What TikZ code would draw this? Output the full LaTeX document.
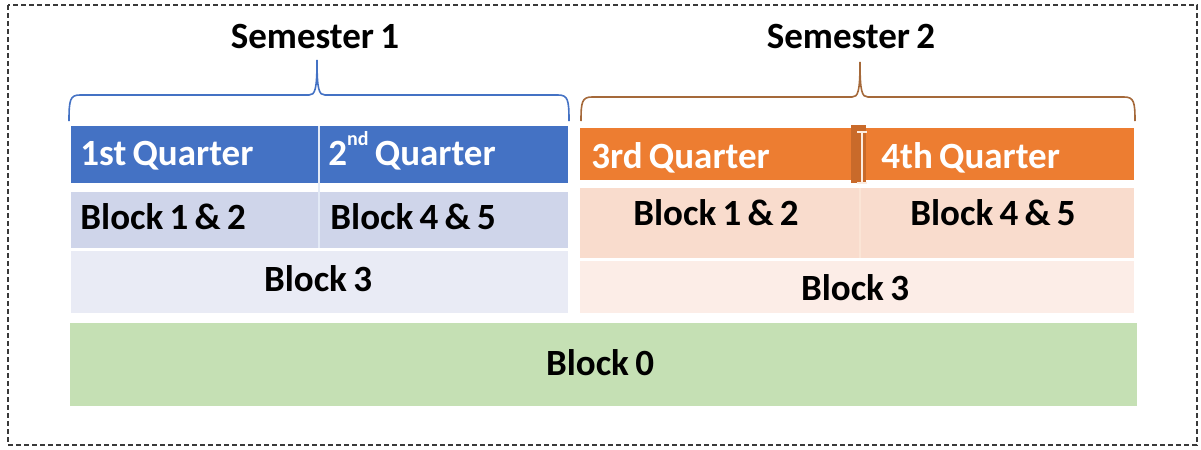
\documentclass[tikz,border=0pt]{standalone}
\usepackage{fontspec}
\setmainfont{Carlito}[WordSpace=0.75]

\definecolor{qblue}{HTML}{4472C4}
\definecolor{rowblue}{HTML}{CFD5EA}
\definecolor{paleblue}{HTML}{E9EBF5}
\definecolor{qorange}{HTML}{ED7D31}
\definecolor{roworange}{HTML}{F9DCCD}
\definecolor{paleorange}{HTML}{FCEDE7}
\definecolor{blockgreen}{HTML}{C5E0B4}
\definecolor{bracebrown}{HTML}{A5693A}

\begin{document}
\begin{tikzpicture}[x=0.5pt,y=-0.5pt,
  lbl/.style={font=\fontsize{18.5}{20}\selectfont\bfseries, inner sep=0pt},
  qlbl/.style={lbl, text=white}]
\useasboundingbox (0,0) rectangle (1201,450);
\draw[gray!45!black, semithick, dash pattern=on 2.5pt off 1.5pt] (8,5) rectangle (1197,445);

% semester 1
\draw[qblue, thick] (69,121) .. controls (69,100) and (70,95) .. (80,95) -- (309,95)
  .. controls (315,95) and (317,90) .. (317,60) .. controls (317,90) and (319,95) .. (325,95)
  -- (558,95) .. controls (568,95) and (569,100) .. (569,121);
\node[lbl, anchor=base] (sem1) at (315,48) {Semester 1};
\draw[fill=qblue, draw=none] (71,126) rectangle (568,183);
\draw[fill=rowblue, draw=none] (71,192) rectangle (568,248);
\draw[fill=paleblue, draw=none] (71,251) rectangle (568,313);
\draw[white!85!qblue, thick] (319,126) -- (319,248);
\node[qlbl, anchor=base west] (q1) at (80,165) {1st Quarter};
\node[qlbl, anchor=base west] (q2) at (328,165) {2\raisebox{1.1ex}{\fontsize{10}{11}\selectfont nd} Quarter};
\node[lbl, anchor=base west] (b12a) at (80,229) {Block 1 \& 2};
\node[lbl, anchor=base west] (b45a) at (330,229) {Block 4 \& 5};
\node[lbl, anchor=base] (b3a) at (318,291) {Block 3};

% semester 2
\draw[bracebrown, thick] (581,121) .. controls (581,102) and (582,97) .. (592,97) -- (852,97)
  .. controls (858,97) and (860,92) .. (860,62) .. controls (860,92) and (862,97) .. (868,97)
  -- (1124,97) .. controls (1134,97) and (1135,102) .. (1135,121);
\node[lbl, anchor=base] (sem2) at (851,48) {Semester 2};
\draw[fill=qorange, draw=none] (580,128) rectangle (1134,180);
\draw[fill=roworange, draw=none] (580,188) rectangle (1134,258);
\draw[fill=paleorange, draw=none] (580,261) rectangle (1134,313);
\draw[white!80!qorange, thick] (860,188) -- (860,258);
\draw[fill=qorange!85!black, draw=none] (851,125) rectangle (866,183);
\draw[white!85!qorange, thick] (857,132) -- (867,132) (862,132) -- (862,183) (857,183) -- (867,183);
\node[qlbl, anchor=base west] (q3) at (591,168) {3rd Quarter};
\node[qlbl, anchor=base west] (q4) at (881,168) {4th Quarter};
\node[lbl, anchor=base] (b12b) at (716,225) {Block 1 \& 2};
\node[lbl, anchor=base] (b45b) at (993,225) {Block 4 \& 5};
\node[lbl, anchor=base] (b3b) at (855,300) {Block 3};

% block 0
\draw[fill=blockgreen, draw=none] (70,323) rectangle (1137,406);
\node[lbl, anchor=base] (b0) at (600,375) {Block 0};
\end{tikzpicture}
\end{document}
